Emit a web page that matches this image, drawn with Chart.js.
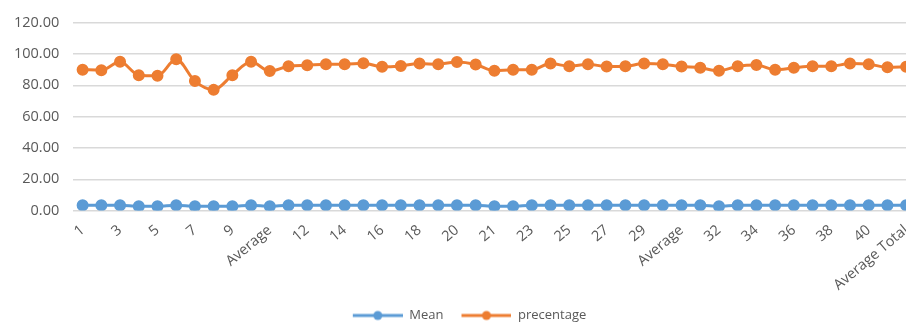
<!DOCTYPE html>
<html>
<head>
<meta charset="utf-8">
<script src="https://cdn.jsdelivr.net/npm/chart.js@4.4.1/dist/chart.umd.min.js"></script>
<style>
  html, body { margin: 0; padding: 0; background: #fff; overflow: hidden; }
  #wrap { position: relative; width: 923px; height: 322px; }
</style>
</head>
<body>
<div id="wrap"><canvas id="chart"></canvas></div>
<script>
// Item numbers with group averages
const categories = [
  '1','2','3','4','5','6','7','8','9','10','Average',
  '11','12','13','14','15','16','17','18','19','20','Average',
  '21','22','23','24','25','26','27','28','29','30','Average',
  '31','32','33','34','35','36','37','38','39','40','Average',
  'Average Total'
];

const meanValues = [
  3.4, 3.4, 3.4, 2.7, 2.7, 3.4, 2.7, 2.7, 2.7, 3.4, 2.7,
  3.4, 3.4, 3.4, 3.4, 3.4, 3.4, 3.4, 3.4, 3.4, 3.4, 3.4,
  2.7, 2.7, 3.4, 3.4, 3.4, 3.4, 3.4, 3.4, 3.4, 3.4, 3.4,
  3.4, 2.7, 3.4, 3.4, 3.4, 3.4, 3.4, 3.4, 3.4, 3.4, 3.4,
  3.4
];

const percentageValues = [
  90.0, 89.7, 95.0, 86.5, 86.1, 96.6, 82.7, 77.1, 86.5, 95.0, 89.1,
  92.2, 92.8, 93.5, 93.5, 94.1, 91.8, 92.4, 93.9, 93.5, 94.9, 93.3,
  89.3, 89.9, 89.9, 93.9, 92.2, 93.5, 92.0, 92.2, 93.9, 93.5, 92.0,
  91.2, 89.3, 92.2, 93.0, 89.9, 91.2, 92.2, 92.2, 93.9, 93.5, 91.6,
  91.8
];

const yTicks = [0, 20, 40, 60, 80, 100, 120];

const BLUE = '#5B9BD5';
const ORANGE = '#ED7D31';
const TEXT = '#595959';
const FONT = '"Open Sans", sans-serif';

// Legend marker: blank lead-in, then a short line with a dot in the middle
const MARK_GAP = 16, MARK_LEN = 50;
function lineMarker(color) {
  const c = document.createElement('canvas');
  c.width = MARK_GAP + MARK_LEN; c.height = 12;
  const g = c.getContext('2d');
  g.strokeStyle = color; g.lineWidth = 3;
  g.beginPath(); g.moveTo(MARK_GAP, 6); g.lineTo(MARK_GAP + MARK_LEN, 6); g.stroke();
  g.fillStyle = color;
  g.beginPath(); g.arc(MARK_GAP + MARK_LEN / 2, 6, 4.5, 0, Math.PI * 2); g.fill();
  return c;
}

function series(label, data, color) {
  return {
    label, data,
    borderColor: color,
    backgroundColor: color,
    borderWidth: 3,
    pointRadius: 4.5,
    pointHoverRadius: 4.5,
    pointBackgroundColor: color,
    pointBorderColor: color,
    pointStyle: 'circle',
    tension: 0.3,
    cubicInterpolationMode: 'monotone'
  };
}

const meanMarker = lineMarker(BLUE);
const pctMarker = lineMarker(ORANGE);

// Place the legend row slightly right of centre and close to the bottom edge
const legendShift = {
  id: 'legendShift',
  afterLayout(chart) {
    const lg = chart.legend;
    if (lg) {
      lg.left += 0; lg.right += 0;
      lg.top += 10; lg.bottom += 10;
    }
  }
};

new Chart(document.getElementById('chart'), {
  type: 'line',
  data: {
    labels: categories,
    datasets: [
      series('Mean', meanValues, BLUE),
      series('precentage', percentageValues, ORANGE)
    ]
  },
  plugins: [legendShift],
  options: {
    responsive: true,
    maintainAspectRatio: false,
    animation: false,
    layout: { padding: { left: 0, right: 0, top: 5, bottom: 0 } },
    plugins: {
      tooltip: { enabled: false },
      legend: {
        position: 'bottom',
        labels: {
          usePointStyle: true,
          pointStyleWidth: MARK_GAP + MARK_LEN,
          boxHeight: 12,
          padding: 2,
          color: TEXT,
          font: { family: FONT, size: 13 },
          generateLabels(chart) {
            return chart.data.datasets.map((ds, i) => ({
              text: ds.label,
              pointStyle: i === 0 ? meanMarker : pctMarker,
              fillStyle: ds.borderColor,
              strokeStyle: ds.borderColor,
              lineWidth: 0,
              fontColor: TEXT,
              datasetIndex: i,
              hidden: false
            }));
          }
        }
      }
    },
    scales: {
      x: {
        offset: true,
        grid: { display: false },
        border: { display: false },
        ticks: {
          autoSkip: false,
          maxRotation: 40,
          minRotation: 40,
          color: TEXT,
          padding: 3,
          font: { family: FONT, size: 14.5 },
          callback(value, index) {
            return index % 2 === 0 ? this.getLabelForValue(value) : null;
          }
        }
      },
      y: {
        min: 0,
        max: 120,
        afterBuildTicks(axis) { axis.ticks = yTicks.map(v => ({ value: v })); },
        grid: { color: '#D9D9D9', lineWidth: 1.5, drawTicks: false },
        border: { display: false },
        ticks: {
          color: TEXT,
          padding: 14,
          font: { family: FONT, size: 14.5 },
          callback: v => Number(v).toFixed(2)
        }
      }
    }
  }
});
</script>
</body>
</html>
